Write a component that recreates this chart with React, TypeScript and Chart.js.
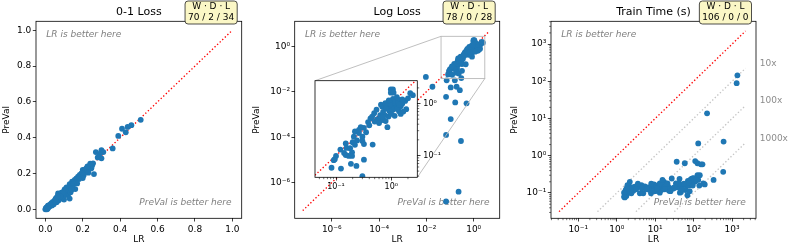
import React, { useEffect, useRef } from 'react';
import { Chart, registerables } from 'chart.js';

Chart.register(...registerables);

const FAMILY = "'DejaVu Sans', sans-serif";
const BLUE = '#1f77b4';

// ---------------- text ----------------
const panelTitles = ['0-1 Loss', 'Log Loss', 'Train Time (s)'];
const wdlHeader = 'W · D · L';
const wdlCounts = ['70 / 2 / 34', '78 / 0 / 28', '106 / 0 / 0'];
const xAxisLabel = 'LR';
const yAxisLabel = 'PreVal';
const upperNote = 'LR is better here';
const lowerNote = 'PreVal is better here';
const speedupLabels = ['10x', '100x', '1000x'];

// ---------------- data ----------------
const zeroOneLR = [
  0.51, 0.46, 0.44, 0.41, 0.43, 0.39, 0.36, 0.30, 0.31, 0.27, 0.29, 0.30, 0.28, 0.255, 0.246, 0.237, 0.26, 0.20, 0.21, 0.22,
  0.193, 0.184, 0.175, 0.166, 0.157, 0.143, 0.16, 0.13, 0.113, 0.103, 0.086, 0.068, 0.121, 0.094, 0.077, 0.05, 0.032, 0.014, 0.005,
  0.215, 0.225, 0.235, 0.24, 0.25, 0.225, 0.24, 0.19, 0.205, 0.23, 0.2, 0.17, 0.18, 0.165, 0.17, 0.15, 0.145, 0.14,
  0.10, 0.11, 0.12, 0.13, 0.125, 0.115, 0.09, 0.10, 0.08, 0.11, 0.135, 0.14, 0.095, 0.13, 0.1, 0.085, 0.075,
  0.0, 0.005, 0.01, 0.01, 0.015, 0.02, 0.02, 0.025, 0.03, 0.035, 0.04, 0.04, 0.045, 0.05, 0.055, 0.06, 0.06, 0.065, 0.07, 0.07,
  0.075, 0.08, 0.06, 0.045, 0.035, 0.025, 0.015, 0.008, 0.055, 0.065, 0.003, 0.012,
];
const zeroOnePreVal = [
  0.50, 0.47, 0.46, 0.45, 0.43, 0.41, 0.34, 0.33, 0.32, 0.32, 0.31, 0.285, 0.29, 0.257, 0.229, 0.242, 0.197, 0.22, 0.21, 0.229,
  0.201, 0.192, 0.182, 0.173, 0.164, 0.154, 0.113, 0.141, 0.123, 0.112, 0.093, 0.089, 0.08, 0.067, 0.061, 0.042, 0.034, 0.02, 0.009,
  0.225, 0.215, 0.225, 0.235, 0.245, 0.24, 0.255, 0.18, 0.19, 0.205, 0.175, 0.165, 0.17, 0.15, 0.145, 0.14, 0.13, 0.12,
  0.10, 0.09, 0.10, 0.12, 0.105, 0.085, 0.08, 0.075, 0.085, 0.105, 0.095, 0.11, 0.095, 0.06, 0.055, 0.06, 0.075,
  0.0, 0.003, 0.005, 0.012, 0.01, 0.014, 0.022, 0.019, 0.025, 0.03, 0.033, 0.042, 0.038, 0.05, 0.046, 0.052, 0.065, 0.056, 0.066, 0.05,
  0.07, 0.072, 0.04, 0.028, 0.022, 0.026, 0.018, 0.0, 0.06, 0.072, 0.006, 0.003,
];

const logLossLR = [
  0.98, 1.07, 0.98, 1.10, 2.45, 1.38, 1.07, 1.78, 2.0, 0.65,
  0.69, 0.78, 0.87, 1.48, 1.86, 1.38, 1.48, 1.12, 1.0, 1.2,
  1.07, 0.93, 1.26, 1.15, 0.83, 1.58, 1.32, 0.95, 0.49, 0.38,
  0.42, 0.56, 0.63, 0.72, 0.85, 0.79, 0.63, 0.71, 0.54, 0.45,
  0.89, 0.76, 0.32, 0.22, 0.21, 0.26, 0.30, 0.24, 0.20, 0.22,
  0.30, 0.32, 0.46, 0.35, 0.28, 0.15, 0.155, 0.18, 0.195, 0.17,
  0.195, 0.14, 0.15, 0.10, 0.095, 0.091, 0.083, 0.123, 0.186, 0.234,
  0.32, 0.30, 1.26, 1.58, 2.2, 0.8, 1.0, 1.4, 0.5, 1.65,
  0.12, 0.26, 0.6, 0.7, 0.4, 1.15, 0.9,
  0.0095, 0.018, 0.072, 0.107, 0.19, 0.26, 0.068, 0.166, 0.50, 0.107, 0.068, 0.29, 0.23, 0.068, 0.16,
];
const logLossPreVal = [
  1.86, 1.86, 1.62, 1.62, 1.45, 1.17, 1.23, 1.12, 1.26, 0.95,
  0.87, 1.02, 0.79, 0.89, 0.78, 0.71, 0.63, 0.95, 0.89, 0.83,
  0.76, 0.71, 0.79, 1.05, 0.89, 1.0, 1.07, 1.0, 0.65, 0.44,
  0.52, 0.50, 0.47, 0.48, 0.35, 0.46, 0.60, 0.69, 0.76, 0.56,
  0.56, 0.60, 0.34, 0.29, 0.23, 0.27, 0.23, 0.195, 0.18, 0.16,
  0.19, 0.166, 0.162, 0.28, 0.35, 0.17, 0.14, 0.138, 0.115, 0.098,
  0.098, 0.112, 0.102, 0.098, 0.085, 0.081, 0.058, 0.056, 0.069, 0.063,
  0.083, 0.04, 1.32, 1.2, 1.58, 0.8, 0.63, 0.95, 0.45, 0.7,
  0.13, 0.31, 0.42, 0.55, 0.38, 0.58, 1.15,
  0.045, 0.0166, 0.032, 0.0155, 0.0166, 0.0117, 0.006, 0.0034, 0.0031, 6.3e-4, 1.26e-4, 6.8e-5, 4e-7, 1.5e-7, 0.032,
];

const trainTimeLR = [
  1380, 1318, 224, 132, 603, 589, 331, 36.3, 58.9, 110,
  126, 155, 170, 145, 195, 132, 107, 89, 79, 66,
  51, 47, 62, 69, 44, 38, 42, 27, 27.5, 24,
  23, 21.9, 20, 16.2, 17, 14.5, 12, 13.2, 9.8, 8.9,
  7.8, 6.6, 5.4, 4.4, 3.6, 4.0, 2.95, 2.7, 2.34, 2.04,
  1.9, 1.78, 1.62, 2.04, 2.19, 1.7, 1.55, 2.4, 4.9, 7.2,
  9.8, 13.2, 20.9, 34.7, 1.9, 1.55, 9.3, 15.5, 30, 93,
  126, 178, 71, 85, 100, 117, 76, 56, 95, 141,
  43, 2.0, 2.24, 1.82, 2.5, 3.2, 4.5, 6.0, 10, 11.2,
  17.8, 25, 31.6, 50, 79, 3.55, 7.9,
];
const trainTimePreVal = [
  145, 89, 13.8, 2.14, 2.4, 0.37, 0.224, 0.69, 0.63, 0.72,
  0.63, 0.59, 0.59, 0.30, 0.17, 0.224, 0.20, 0.18, 0.162, 0.155,
  0.162, 0.107, 0.12, 0.087, 0.102, 0.141, 0.18, 0.245, 0.132, 0.132,
  0.115, 0.148, 0.132, 0.148, 0.20, 0.12, 0.148, 0.102, 0.12, 0.151,
  0.098, 0.141, 0.151, 0.162, 0.148, 0.098, 0.148, 0.115, 0.132, 0.107,
  0.098, 0.083, 0.076, 0.162, 0.20, 0.12, 0.102, 0.098, 0.098, 0.12,
  0.162, 0.18, 0.18, 0.18, 0.162, 0.079, 0.17, 0.224, 0.132, 0.245,
  0.30, 0.18, 0.21, 0.234, 0.25, 0.22, 0.19, 0.178, 0.158, 0.158,
  0.24, 0.126, 0.112, 0.135, 0.141, 0.126, 0.132, 0.126, 0.112, 0.132,
  0.126, 0.112, 0.141, 0.126, 0.112, 0.178, 0.178,
];

// ---------------- axes ----------------
const zeroOneTicks = [0, 0.2, 0.4, 0.6, 0.8, 1.0];
const logLossTicks = [1e-6, 1e-4, 1e-2, 1];
const trainTimeTicks = [0.1, 1, 10, 100, 1000];
const insetTicks = [0.1, 1];

const zeroOneLimits = [-0.05, 1.05];
const logLossLimits = [2.7e-8, 12.6];
const trainTimeXLimits = [0.0195, 4200];
const trainTimeYLimits = [0.0209, 4100];
const insetXLimits = [0.0417, 2.95];
const insetYLimits = [0.038, 2.75];

const zeroOneDiagonal = [0, 1];
const logLossDiagonal = [5.9e-8, 4.47];
const trainTimeDiagonal = [0.0316, 2240];
const speedupFactors = [10, 100, 1000];

// ---------------- layout ----------------
const PAGE_W = 789;
const PAGE_H = 251;
const AREA_TOP = 21.3;
const AREA_BOTTOM = 218.3;
const PANEL_BOXES = [
  { canvasLeft: 0, canvasRight: 263, areaLeft: 36, areaRight: 241.7 },
  { canvasLeft: 250, canvasRight: 526, areaLeft: 294.7, areaRight: 499.7 },
  { canvasLeft: 508, canvasRight: 789, areaLeft: 551, areaRight: 756 },
];
const INSET_BOX = { left: 315, right: 417.3, top: 80.7, bottom: 177.3, canvasLeft: 305, canvasTop: 72, canvasW: 150, canvasH: 125 };

// ---------------- helpers ----------------
const SUP: Record<string, string> = { '-': '⁻', '0': '⁰', '1': '¹', '2': '²', '3': '³', '4': '⁴', '5': '⁵', '6': '⁶', '7': '⁷', '8': '⁸', '9': '⁹' };
const pow10Label = (v: number) => {
  const e = Math.round(Math.log10(v));
  return '10' + String(e).split('').map((c) => SUP[c] ?? c).join('');
};
const decimalLabel = (v: number) => v.toFixed(1);
const toPoints = (xs: number[], ys: number[]) => xs.map((x, i) => ({ x, y: ys[i] }));
const diagonalPoints = (ends: number[]) => ends.map((v) => ({ x: v, y: v }));

function minorValues(min: number, max: number) {
  const out: number[] = [];
  for (let e = Math.floor(Math.log10(min)); e <= Math.ceil(Math.log10(max)); e++) {
    for (let m = 2; m <= 9; m++) {
      const v = m * Math.pow(10, e);
      if (v > min && v < max) out.push(v);
    }
  }
  return out;
}

function buildAxis(type: string, lim: number[], ticks: number[], label: (v: number) => string, fontSize: number, pad: number, fit: (a: any) => void, title?: { text: string; padding: any }) {
  return {
    type,
    min: lim[0],
    max: lim[1],
    bounds: 'data',
    afterBuildTicks: (s: any) => {
      s.ticks = ticks.map((v) => ({ value: v }));
    },
    afterFit: fit,
    ticks: {
      autoSkip: false,
      maxRotation: 0,
      minRotation: 0,
      padding: pad,
      color: '#000',
      font: { family: FAMILY, size: fontSize },
      callback: (v: any) => label(Number(v)),
    },
    grid: { display: true, drawOnChartArea: false, drawTicks: true, tickLength: 3.2, tickWidth: 0.75, tickColor: '#000', color: '#000', lineWidth: 0.75 },
    border: { display: false },
    title: title
      ? { display: true, text: title.text, color: '#000', font: { family: FAMILY, size: 9 }, padding: title.padding }
      : { display: false },
  };
}

const pointStyle = { pointRadius: 2.9, pointHoverRadius: 2.9, pointBackgroundColor: BLUE, backgroundColor: BLUE, pointBorderWidth: 0, borderWidth: 0, clip: 0 };
const redLine = { showLine: true, pointRadius: 0, borderColor: 'red', borderWidth: 1.35, borderDash: [1.35, 2.2], borderCapStyle: 'butt', clip: 0 };
const grayLine = { showLine: true, pointRadius: 0, borderColor: '#c4c4c4', borderWidth: 1.35, borderDash: [1.35, 2.2], borderCapStyle: 'butt', clip: 0 };

const panelSpecs = [
  { type: 'linear', xLim: zeroOneLimits, yLim: zeroOneLimits, xTicks: zeroOneTicks, yTicks: zeroOneTicks, label: decimalLabel, lr: zeroOneLR, pv: zeroOnePreVal, diag: zeroOneDiagonal, minor: false, speedup: false, zoom: false },
  { type: 'logarithmic', xLim: logLossLimits, yLim: logLossLimits, xTicks: logLossTicks, yTicks: logLossTicks, label: pow10Label, lr: logLossLR, pv: logLossPreVal, diag: logLossDiagonal, minor: false, speedup: false, zoom: true },
  { type: 'logarithmic', xLim: trainTimeXLimits, yLim: trainTimeYLimits, xTicks: trainTimeTicks, yTicks: trainTimeTicks, label: pow10Label, lr: trainTimeLR, pv: trainTimePreVal, diag: trainTimeDiagonal, minor: true, speedup: true, zoom: false },
];

function drawFrame(ctx: CanvasRenderingContext2D, a: any) {
  ctx.save();
  ctx.strokeStyle = '#000';
  ctx.lineWidth = 0.8;
  ctx.strokeRect(a.left, a.top, a.right - a.left, a.bottom - a.top);
  ctx.restore();
}

function drawMinor(ctx: CanvasRenderingContext2D, chart: any, ySide: 'left' | 'right') {
  const a = chart.chartArea;
  const sx = chart.scales.x;
  const sy = chart.scales.y;
  ctx.save();
  ctx.strokeStyle = '#000';
  ctx.lineWidth = 0.55;
  ctx.beginPath();
  for (const v of minorValues(sx.min, sx.max)) {
    const px = sx.getPixelForValue(v);
    ctx.moveTo(px, a.bottom);
    ctx.lineTo(px, a.bottom + 1.9);
  }
  for (const v of minorValues(sy.min, sy.max)) {
    const py = sy.getPixelForValue(v);
    if (ySide === 'left') {
      ctx.moveTo(a.left - 1.9, py);
      ctx.lineTo(a.left, py);
    } else {
      ctx.moveTo(a.right, py);
      ctx.lineTo(a.right + 1.9, py);
    }
  }
  ctx.stroke();
  ctx.restore();
}

function panelDecor(i: number) {
  const spec = panelSpecs[i];
  const box = PANEL_BOXES[i];
  return {
    id: 'panelDecor' + i,
    beforeDatasetsDraw(chart: any) {
      const { ctx, chartArea: a } = chart;
      const w = a.right - a.left;
      const h = a.bottom - a.top;
      ctx.save();
      ctx.font = `italic 9px ${FAMILY}`;
      ctx.fillStyle = '#808080';
      ctx.textBaseline = 'middle';
      ctx.textAlign = 'left';
      ctx.fillText(upperNote, a.left + 0.05 * w, a.top + 0.07 * h);
      ctx.textAlign = 'right';
      ctx.fillText(lowerNote, a.right - 0.05 * w, a.bottom - 0.08 * h);
      ctx.restore();
    },
    afterDatasetsDraw(chart: any) {
      const { ctx, chartArea: a } = chart;
      if (spec.zoom) {
        const sx = chart.scales.x;
        const sy = chart.scales.y;
        const x0 = sx.getPixelForValue(insetXLimits[0]);
        const x1 = sx.getPixelForValue(insetXLimits[1]);
        const y0 = sy.getPixelForValue(insetYLimits[0]);
        const y1 = sy.getPixelForValue(insetYLimits[1]);
        ctx.save();
        ctx.strokeStyle = '#b8b8b8';
        ctx.lineWidth = 0.9;
        ctx.strokeRect(x0, y1, x1 - x0, y0 - y1);
        ctx.beginPath();
        ctx.moveTo(x0, y1);
        ctx.lineTo(INSET_BOX.left - box.canvasLeft, INSET_BOX.top);
        ctx.moveTo(x1, y0);
        ctx.lineTo(INSET_BOX.right - box.canvasLeft, INSET_BOX.bottom);
        ctx.stroke();
        ctx.restore();
      }
      drawFrame(ctx, a);
      if (spec.minor) drawMinor(ctx, chart, 'left');
      if (spec.speedup) {
        const sy = chart.scales.y;
        ctx.save();
        ctx.font = `9px ${FAMILY}`;
        ctx.fillStyle = '#8c8c8c';
        ctx.textAlign = 'left';
        ctx.textBaseline = 'bottom';
        speedupFactors.forEach((k, j) => {
          ctx.fillText(speedupLabels[j], a.right + 3.7, sy.getPixelForValue(trainTimeDiagonal[1] / k));
        });
        ctx.restore();
      }
    },
    afterDraw(chart: any) {
      const { ctx, chartArea: a } = chart;
      ctx.save();
      ctx.font = `9px ${FAMILY}`;
      const tw = Math.max(ctx.measureText(wdlHeader).width, ctx.measureText(wdlCounts[i]).width);
      const bw = tw + 6;
      const bh = 23;
      const bx = a.right - 4.5 - bw;
      const by = 1;
      const r = 3;
      ctx.beginPath();
      ctx.moveTo(bx + r, by);
      ctx.lineTo(bx + bw - r, by);
      ctx.quadraticCurveTo(bx + bw, by, bx + bw, by + r);
      ctx.lineTo(bx + bw, by + bh - r);
      ctx.quadraticCurveTo(bx + bw, by + bh, bx + bw - r, by + bh);
      ctx.lineTo(bx + r, by + bh);
      ctx.quadraticCurveTo(bx, by + bh, bx, by + bh - r);
      ctx.lineTo(bx, by + r);
      ctx.quadraticCurveTo(bx, by, bx + r, by);
      ctx.closePath();
      ctx.fillStyle = '#fbf7c6';
      ctx.fill();
      ctx.strokeStyle = '#222';
      ctx.lineWidth = 0.8;
      ctx.stroke();
      ctx.fillStyle = '#000';
      ctx.textAlign = 'center';
      ctx.textBaseline = 'middle';
      ctx.fillText(wdlHeader, bx + bw / 2, by + 5.6);
      ctx.fillText(wdlCounts[i], bx + bw / 2, by + 16.4);
      ctx.restore();
    },
  };
}

function buildPanelConfig(i: number): any {
  const s = panelSpecs[i];
  const box = PANEL_BOXES[i];
  const datasets: any[] = [
    { label: 'datasets', data: toPoints(s.lr, s.pv), ...pointStyle },
    { label: 'y = x', data: diagonalPoints(s.diag), ...redLine },
  ];
  if (s.speedup) {
    speedupFactors.forEach((k, j) => {
      datasets.push({
        label: speedupLabels[j],
        data: [
          { x: trainTimeDiagonal[0] * k, y: trainTimeDiagonal[0] },
          { x: trainTimeDiagonal[1], y: trainTimeDiagonal[1] / k },
        ],
        ...grayLine,
      });
    });
  }
  return {
    type: 'scatter',
    data: { datasets },
    options: {
      responsive: false,
      maintainAspectRatio: false,
      animation: false,
      devicePixelRatio: 1,
      events: [],
      layout: { autoPadding: false, padding: { left: 0, top: 0, bottom: 0, right: box.canvasRight - box.areaRight } },
      plugins: {
        legend: { display: false },
        tooltip: { enabled: false },
        title: {
          display: true,
          text: panelTitles[i],
          fullSize: false,
          color: '#000',
          font: { family: FAMILY, size: 11, weight: 'normal', lineHeight: 1.2 },
          padding: { top: 5.4, bottom: AREA_TOP - 13.2 - 5.4 },
        },
      },
      scales: {
        x: buildAxis(s.type, s.xLim, s.xTicks, s.label, 9, 2.4, (a: any) => { a.height = PAGE_H - AREA_BOTTOM; }, { text: xAxisLabel, padding: { top: 0, bottom: 5.6 } }),
        y: buildAxis(s.type, s.yLim, s.yTicks, s.label, 9, 1.5, (a: any) => { a.width = box.areaLeft - box.canvasLeft; }, { text: yAxisLabel, padding: { top: 1.3, bottom: 0 } }),
      },
    },
    plugins: [panelDecor(i)],
  };
}

function buildInsetConfig(): any {
  const b = INSET_BOX;
  const insetDecor = {
    id: 'insetDecor',
    beforeDraw(chart: any) {
      const { ctx, chartArea: a } = chart;
      ctx.save();
      ctx.fillStyle = '#fff';
      ctx.fillRect(a.left, a.top, a.right - a.left, a.bottom - a.top);
      ctx.restore();
    },
    afterDraw(chart: any) {
      drawFrame(chart.ctx, chart.chartArea);
      drawMinor(chart.ctx, chart, 'right');
    },
  };
  return {
    type: 'scatter',
    data: {
      datasets: [
        { label: 'datasets', data: toPoints(logLossLR, logLossPreVal), ...pointStyle },
        { label: 'y = x', data: diagonalPoints(logLossDiagonal), ...redLine },
      ],
    },
    options: {
      responsive: false,
      maintainAspectRatio: false,
      animation: false,
      devicePixelRatio: 1,
      events: [],
      layout: { autoPadding: false, padding: { left: b.left - b.canvasLeft, top: b.top - b.canvasTop, right: 0, bottom: 0 } },
      plugins: { legend: { display: false }, tooltip: { enabled: false }, title: { display: false } },
      scales: {
        x: buildAxis('logarithmic', insetXLimits, insetTicks, pow10Label, 8, 1.6, (a: any) => { a.height = b.canvasTop + b.canvasH - b.bottom; }),
        y: { ...buildAxis('logarithmic', insetYLimits, insetTicks, pow10Label, 8, 2.8, (a: any) => { a.width = b.canvasLeft + b.canvasW - b.right; }), position: 'right' },
      },
    },
    plugins: [insetDecor],
  };
}

function ChartCanvas(props: { left: number; top: number; width: number; height: number; build: () => any }) {
  const ref = useRef<HTMLCanvasElement>(null);
  useEffect(() => {
    if (!ref.current) return;
    const chart = new Chart(ref.current, props.build());
    return () => chart.destroy();
  }, []);
  return (
    <canvas
      ref={ref}
      width={props.width}
      height={props.height}
      style={{ position: 'absolute', left: props.left, top: props.top, width: props.width, height: props.height, display: 'block' }}
    />
  );
}

export default function App() {
  return (
    <div style={{ position: 'absolute', left: 0, top: 0, width: PAGE_W, height: PAGE_H, background: '#fff', overflow: 'hidden' }}>
      {PANEL_BOXES.map((b, i) => (
        <ChartCanvas key={i} left={b.canvasLeft} top={0} width={b.canvasRight - b.canvasLeft} height={PAGE_H} build={() => buildPanelConfig(i)} />
      ))}
      <ChartCanvas left={INSET_BOX.canvasLeft} top={INSET_BOX.canvasTop} width={INSET_BOX.canvasW} height={INSET_BOX.canvasH} build={buildInsetConfig} />
    </div>
  );
}
